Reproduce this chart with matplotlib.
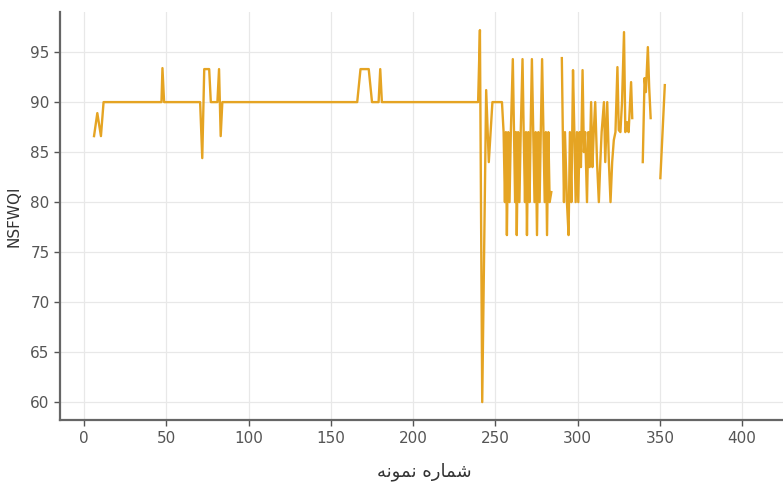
import numpy as np
import matplotlib
matplotlib.use('Agg')
import matplotlib.pyplot as plt

nan = np.nan
# شماره نمونه و مقدار شاخص (خوانده شده از تصویر)
sample_no = [6, 8, 10.2, 11.8, 47, 47.6, 48.6, 70.5, 71.8, 73, 76, 77, 81, 82, 83, 84,
             166, 168, 173, 175, 179, 180, 181,
             239.5, 240.6, 242, 244.4, 246, 248.2, 254,
             255, 255.8, 256.4, 257,
             257.8, 258.6, 259.4, 260.6, 261.3, 262, 262.5, 263,
             263.8, 264.6, 265.4, 266.5, 267.2, 268, 268.6, 269.2,
             270, 270.8, 271.4, 272.2, 273, 273.8, 274.5, 275.3,
             276.1, 276.9, 277.6, 278.4, 279.2, 280, 280.7, 281.4,
             282.2, 283, 284,
             287,
             290.4, 291, 291.7, 292.3, 293.5, 294.5, 295.3, 296.2, 297.2, 298, 298.8, 299.6, 300.4,
             301.2, 302, 303, 303.8, 304.6, 305.7,
             306.5, 307.3, 308.2, 309, 309.8, 310.7, 311.8, 312.9,
             313.8, 314.6, 316, 316.8, 317.4, 318, 319, 320, 321, 322, 323, 324.2, 325, 326,
             327, 328.2, 329, 330, 331, 332.5, 333.2,
             336,
             339.6, 340.7, 341.5, 342.7, 343.5, 344.4,
             347,
             350.3, 353]
nsfwqi = [86.6, 88.9, 86.6, 90, 90, 93.4, 90, 90, 84.4, 93.3, 93.3, 90, 90, 93.3, 86.6, 90,
          90, 93.3, 93.3, 90, 90, 93.3, 90,
          90, 97.2, 60, 91.2, 84, 90, 90,
          87, 80, 87, 76.7,
          87, 80, 87, 94.3, 87, 80, 87, 76.7,
          87, 80, 87, 94.3, 87, 80, 87, 76.7,
          87, 80, 87, 94.3, 87, 80, 87, 76.7,
          87, 80, 87, 94.3, 87, 80, 87, 76.7,
          87, 80, 81,
          nan,
          94.4, 87, 80, 87, 80, 76.7, 87, 80, 93.2, 87, 80, 87, 80,
          87, 83.5, 93.2, 85, 87, 80,
          87, 83.5, 90, 83.5, 87, 90, 84, 80,
          84, 87, 90, 84, 87, 90, 84, 80, 84, 86.2, 87, 93.5, 87.2, 87,
          90, 97, 87, 88, 87, 92, 88.4,
          nan,
          84, 92.4, 91, 95.5, 91.5, 88.4,
          nan,
          82.4, 91.7]

xlabel_txt = '\uFEEA\uFEE7\uFEEE\uFEE4\uFEE7 \uFEE9\uFEAD\uFE8E\uFEE4\uFEB7'  # شماره نمونه

fig = plt.figure(figsize=(7.83, 4.84), dpi=100)
ax = fig.add_axes([0.0766, 0.132, 0.93, 0.843])
ax.plot(sample_no, nsfwqi, color='#E5A423', linewidth=1.7)

ax.set_xlim(-14.7, 428)
ax.set_ylim(58.2, 99)
ax.set_xticks(range(0, 401, 50))
ax.set_yticks(range(60, 96, 5))
ax.grid(True, color='#e8e8e8', linewidth=0.9)
ax.set_axisbelow(True)
for s in ['top', 'right']:
    ax.spines[s].set_visible(False)
for s in ['left', 'bottom']:
    ax.spines[s].set_color('#666666')
    ax.spines[s].set_linewidth(1.6)
ax.tick_params(colors='#555555', labelsize=11, length=4, width=1)
ax.set_ylabel('NSFWQI', fontsize=11, color='#333333', labelpad=6)
ax.set_xlabel(xlabel_txt, fontsize=13, color='#333333', labelpad=12)

plt.savefig('out.png')
